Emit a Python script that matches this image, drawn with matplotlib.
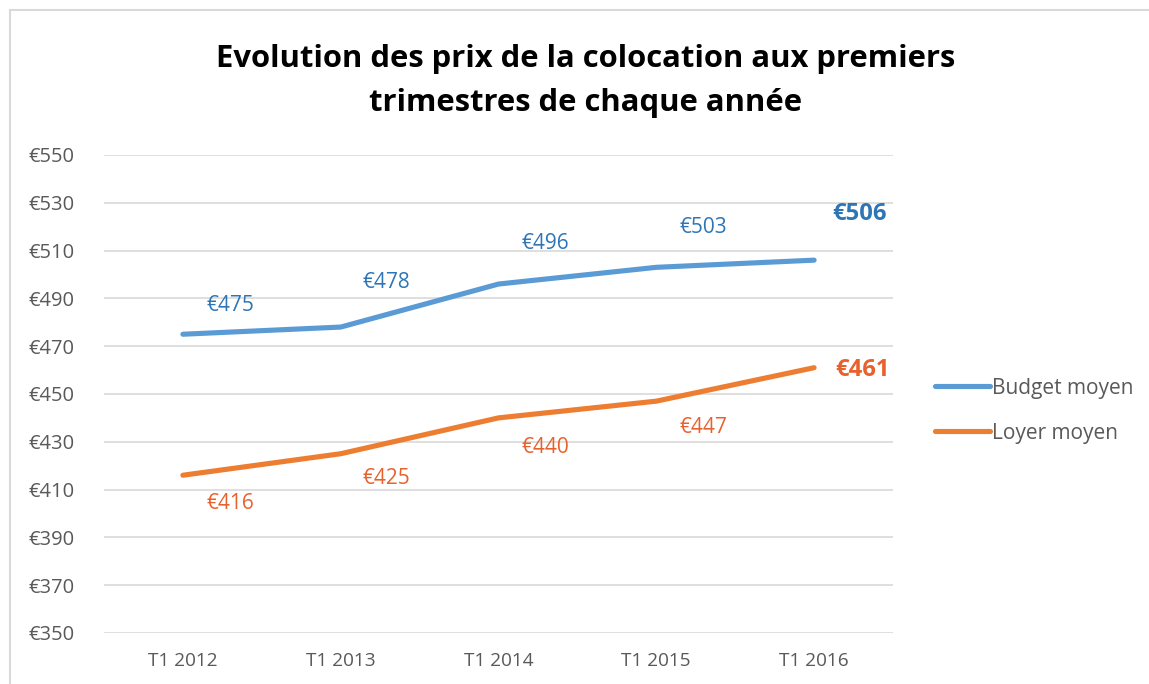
import matplotlib
matplotlib.use("Agg")
import matplotlib.pyplot as plt
from matplotlib.patches import Rectangle

categories = ["T1 2012", "T1 2013", "T1 2014", "T1 2015", "T1 2016"]
budget = [475, 478, 496, 503, 506]
loyer = [416, 425, 440, 447, 461]
yticks = [350, 370, 390, 410, 430, 450, 470, 490, 510, 530, 550]

# label offsets in points (relative to each point)
budget_off = [(34, 21), (33, 32), (34, 29), (34, 29), (33, 33)]
loyer_off = [(34, -20), (33, -18), (34, -21), (34, -19), (35, -2)]

plt.rcParams['font.family'] = ['Open Sans', 'DejaVu Sans']

blue_line = '#5B9BD5'
blue_txt = '#2E75B6'
orange_line = '#ED7D31'
orange_txt = '#E8612C'
grey_txt = '#595959'

fig = plt.figure(figsize=(11.49, 6.84), dpi=100)
ax = fig.add_axes([0.0905, 0.0746, 0.6867, 0.6988])

x = list(range(len(categories)))
ax.plot(x, budget, color=blue_line, lw=3.7, solid_capstyle='round', label='Budget moyen', zorder=3)
ax.plot(x, loyer, color=orange_line, lw=3.7, solid_capstyle='round', label='Loyer moyen', zorder=3)

n = len(categories)
for i, (v, off) in enumerate(zip(budget, budget_off)):
    last = i == n - 1
    ax.annotate(f"€{v}", (i, v), xytext=off, textcoords='offset points',
                ha='center', va='center', color=blue_txt,
                fontsize=17.2 if last else 15, fontweight='bold' if last else 'normal')
for i, (v, off) in enumerate(zip(loyer, loyer_off)):
    last = i == n - 1
    ax.annotate(f"€{v}", (i, v), xytext=off, textcoords='offset points',
                ha='center', va='center', color=orange_txt,
                fontsize=17.2 if last else 15, fontweight='bold' if last else 'normal')

ax.set_xlim(-0.5, n - 0.5)
ax.set_ylim(350, 550)
ax.set_yticks(yticks)
ax.set_yticklabels([f"€{t}" for t in yticks])
ax.set_xticks(x)
ax.set_xticklabels(categories)
ax.grid(axis='y', color='#D9D9D9', lw=1.2)
ax.set_axisbelow(True)
for s in ax.spines.values():
    s.set_visible(False)
ax.tick_params(axis='x', length=0, labelsize=13.7, colors=grey_txt, pad=14)
ax.tick_params(axis='y', length=0, labelsize=14.5, colors=grey_txt, pad=21)

leg = ax.legend(loc='center left', bbox_to_anchor=(1.03, 0.465), frameon=False,
                fontsize=15, handlelength=2.6, handletextpad=0.1, labelspacing=1.15,
                labelcolor=grey_txt)

fig.text(0.51, 0.881, "Evolution des prix de la colocation aux premiers\ntrimestres de chaque année",
         ha='center', va='center', fontsize=22.3, fontweight='bold', color='black',
         linespacing=1.6)

fig.patches.append(Rectangle((10/1149, -0.05), 1.2, 1 - 10/684 + 0.05, transform=fig.transFigure,
                             fill=False, edgecolor='#D9D9D9', lw=1.5))

fig.savefig('out.png', dpi=100)
